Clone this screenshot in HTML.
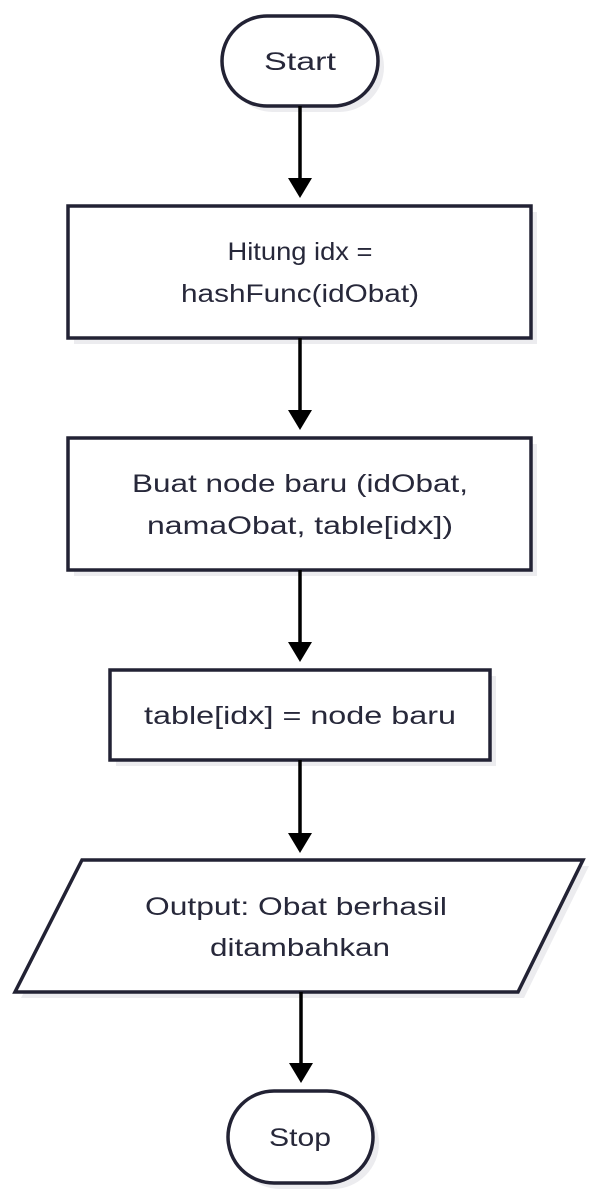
<!DOCTYPE html>
<html><head><meta charset="utf-8"><style>
html,body{margin:0;padding:0;background:#fff;}
svg{display:block}
text{font-family:"Liberation Sans",sans-serif;font-size:25px;fill:#27283a;text-anchor:middle;}
</style></head><body>
<svg width="600" height="1198" viewBox="0 0 600 1198" xmlns="http://www.w3.org/2000/svg">
<g fill="#ececef" stroke="none">
<rect x="228" y="22" width="156" height="90" rx="45"/>
<rect x="74" y="212" width="463" height="132"/>
<rect x="74" y="444" width="463" height="132"/>
<rect x="116" y="676" width="380" height="90"/>
<polygon points="88,866 589,866 524,998 21,998"/>
<rect x="234" y="1097" width="145" height="92" rx="46"/>
</g>
<g fill="#fff" stroke="#222234" stroke-width="3.5">
<rect x="222" y="16" width="156" height="90" rx="45"/>
<rect x="68" y="206" width="463" height="132"/>
<rect x="68" y="438" width="463" height="132"/>
<rect x="110" y="670" width="380" height="90"/>
<polygon points="82,860 583,860 518,992 15,992"/>
<rect x="228" y="1091" width="145" height="92" rx="46"/>
</g>
<g stroke="#000" stroke-width="3.5">
<line x1="300" y1="106" x2="300" y2="180"/>
<line x1="300" y1="338" x2="300" y2="412"/>
<line x1="300" y1="570" x2="300" y2="644"/>
<line x1="300" y1="760" x2="300" y2="835"/>
<line x1="301" y1="992" x2="301" y2="1065"/>
</g>
<g fill="#000">
<polygon points="288,178 312,178 300,198"/>
<polygon points="288,410 312,410 300,430"/>
<polygon points="288,642 312,642 300,662"/>
<polygon points="288,833 312,833 300,853"/>
<polygon points="289,1063 313,1063 301,1083"/>
</g>
<text x="300" y="70" textLength="72" lengthAdjust="spacingAndGlyphs">Start</text>
<text x="300" y="260" textLength="145" lengthAdjust="spacingAndGlyphs">Hitung idx =</text>
<text x="300" y="302" textLength="238" lengthAdjust="spacingAndGlyphs">hashFunc(idObat)</text>
<text x="300" y="492" textLength="336" lengthAdjust="spacingAndGlyphs">Buat node baru (idObat,</text>
<text x="300" y="534" textLength="306" lengthAdjust="spacingAndGlyphs">namaObat, table[idx])</text>
<text x="300" y="724" textLength="312" lengthAdjust="spacingAndGlyphs">table[idx] = node baru</text>
<text x="296" y="915" textLength="302" lengthAdjust="spacingAndGlyphs">Output: Obat berhasil</text>
<text x="300" y="956" textLength="180" lengthAdjust="spacingAndGlyphs">ditambahkan</text>
<text x="300" y="1146" textLength="62" lengthAdjust="spacingAndGlyphs">Stop</text>
</svg>
</body></html>
